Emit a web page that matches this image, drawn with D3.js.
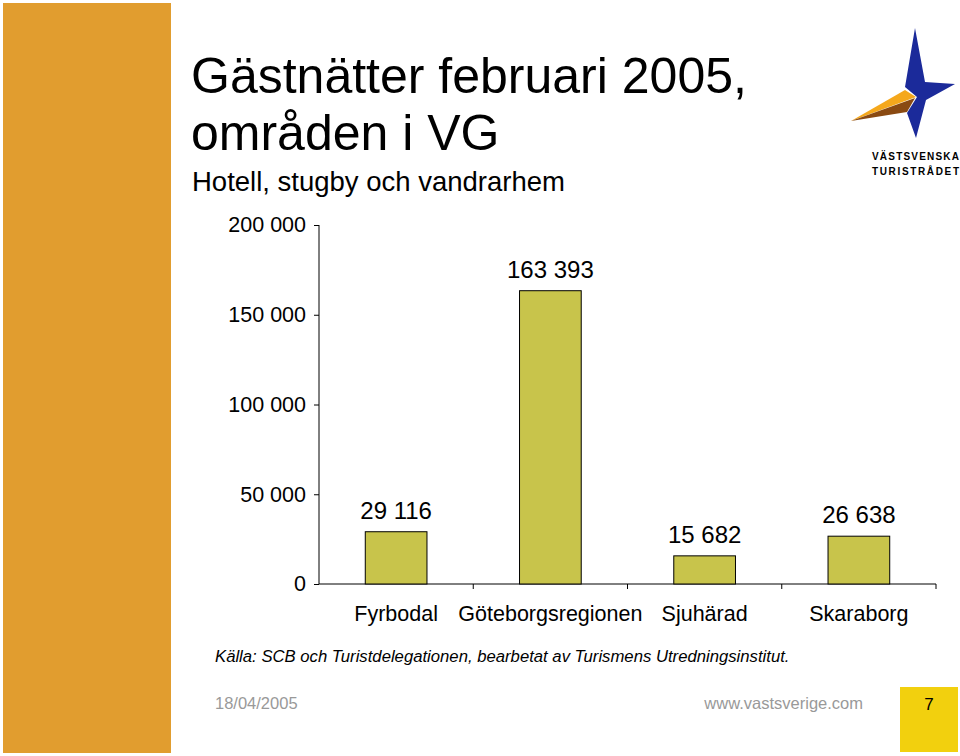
<!DOCTYPE html>
<html>
<head>
<meta charset="utf-8">
<script src="https://cdn.jsdelivr.net/npm/d3@7"></script>
<style>
    body { margin: 0; background: #fff; }
    svg { display: block; font-family: "Liberation Sans", Arial, sans-serif; }
</style>
</head>
<body>
<script>
var regions = ['Fyrbodal', 'Göteborgsregionen', 'Sjuhärad', 'Skaraborg'];
var guestNights = [29116, 163393, 15682, 26638];
var yTicks = [0, 50000, 100000, 150000, 200000];

var width = 960,
    height = 756;

var svg = d3.select('body')
    .append('svg')
    .attr('width', width)
    .attr('height', height);

// orange strip on the left
svg.append('rect')
    .attr('x', 3).attr('y', 3)
    .attr('width', 168).attr('height', 750)
    .attr('fill', '#e19d2f');

// titles
var title = svg.append('g').attr('fill', '#000');
title.append('text')
    .attr('x', 191).attr('y', 93)
    .style('font-size', '50px')
    .text('Gästnätter februari 2005,');
title.append('text')
    .attr('x', 191).attr('y', 150)
    .style('font-size', '50px')
    .text('områden i VG');
title.append('text')
    .attr('x', 192).attr('y', 191)
    .style('font-size', '27.5px')
    .text('Hotell, stugby och vandrarhem');

// logo
var logo = svg.append('g');
logo.append('path')
    .attr('fill', '#1b2a9a')
    .attr('d', 'M915,28 L925,82 L955,84 L926,100 L916,138 L907,113 L917,97 L905,87 Z');
logo.append('path')
    .attr('fill', '#f5a81c')
    .attr('d', 'M851,121 L905,90 L916,97 Z');
logo.append('path')
    .attr('fill', '#8a4a12')
    .attr('d', 'M851,121 L915,98 L907,112 Z');
logo.append('text')
    .attr('x', 872).attr('y', 160)
    .attr('textLength', 87).attr('lengthAdjust', 'spacing')
    .style('font-size', '10px').style('font-weight', 'bold')
    .text('VÄSTSVENSKA');
logo.append('text')
    .attr('x', 872).attr('y', 175)
    .attr('textLength', 87).attr('lengthAdjust', 'spacing')
    .style('font-size', '10px').style('font-weight', 'bold')
    .text('TURISTRÅDET');

// chart
var x0 = 319, x1 = 936, y0 = 584, y1 = 225;

var x = d3.scaleBand()
    .domain(regions)
    .range([x0, x1]);

var y = d3.scaleLinear()
    .domain([0, 200000])
    .range([y0, y1]);

var fmt = function(v) { return d3.format(',')(v).replace(/,/g, ' '); };

var yAxis = svg.append('g')
    .attr('transform', 'translate(' + x0 + ',0)')
    .call(d3.axisLeft(y).tickValues(yTicks).tickSize(5).tickPadding(8).tickFormat(fmt));
yAxis.select('.domain').attr('d', 'M0,' + y1 + 'V' + y0);
yAxis.selectAll('text').style('font-size', '21.5px').attr('fill', '#000');
yAxis.selectAll('line').attr('stroke', '#000');

var xAxis = svg.append('g')
    .attr('transform', 'translate(0,' + y0 + ')');
xAxis.append('line')
    .attr('x1', x0).attr('x2', x1)
    .attr('stroke', '#000');
xAxis.selectAll('.xtick')
    .data(regions)
    .enter()
    .append('line')
    .attr('class', 'xtick')
    .attr('x1', function(d) { return x(d) + x.bandwidth(); })
    .attr('x2', function(d) { return x(d) + x.bandwidth(); })
    .attr('y1', 0).attr('y2', 5)
    .attr('stroke', '#000');
xAxis.selectAll('.xlabel')
    .data(regions)
    .enter()
    .append('text')
    .attr('class', 'xlabel')
    .attr('x', function(d) { return x(d) + x.bandwidth() / 2; })
    .attr('y', 37)
    .attr('text-anchor', 'middle')
    .style('font-size', '21.5px')
    .text(function(d) { return d; });

var barW = x.bandwidth() * 0.4;

svg.selectAll('.bar')
    .data(guestNights)
    .enter()
    .append('rect')
    .attr('class', 'bar')
    .attr('x', function(d, i) { return x(regions[i]) + (x.bandwidth() - barW) / 2; })
    .attr('y', function(d) { return y(d); })
    .attr('width', barW)
    .attr('height', function(d) { return y0 - y(d); })
    .attr('fill', '#c8c44b')
    .attr('stroke', '#000')
    .attr('stroke-width', 1);

svg.selectAll('.val')
    .data(guestNights)
    .enter()
    .append('text')
    .attr('class', 'val')
    .attr('x', function(d, i) { return x(regions[i]) + x.bandwidth() / 2; })
    .attr('y', function(d) { return y(d) - 13; })
    .attr('text-anchor', 'middle')
    .style('font-size', '24px')
    .text(fmt);

// source
svg.append('text')
    .attr('x', 215).attr('y', 662)
    .style('font-size', '16.7px').style('font-style', 'italic')
    .text('Källa: SCB och Turistdelegationen, bearbetat av Turismens Utredningsinstitut.');

// footer
svg.append('text')
    .attr('x', 215).attr('y', 709)
    .attr('fill', '#999')
    .style('font-size', '16.5px')
    .text('18/04/2005');
svg.append('text')
    .attr('x', 863).attr('y', 709)
    .attr('text-anchor', 'end')
    .attr('fill', '#999')
    .style('font-size', '16.5px')
    .text('www.vastsverige.com');
svg.append('rect')
    .attr('x', 900).attr('y', 687)
    .attr('width', 58).attr('height', 65)
    .attr('fill', '#f2d00e');
svg.append('text')
    .attr('x', 929).attr('y', 710)
    .attr('text-anchor', 'middle')
    .style('font-size', '17px')
    .text('7');
</script>
</body>
</html>
